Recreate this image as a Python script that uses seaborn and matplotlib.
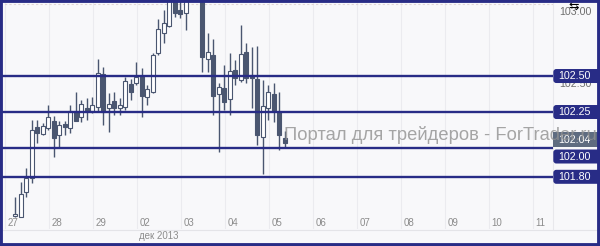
import numpy as np
import matplotlib
matplotlib.use("Agg")
import matplotlib.pyplot as plt
from matplotlib.patches import FancyBboxPatch, Rectangle
from matplotlib.lines import Line2D
import matplotlib.transforms as mtransforms
import seaborn as sns

# ---------------- data ----------------
opens = [101.53, 101.52, 101.694, 101.79, 102.146, 102.097, 102.139, 102.187, 102.09, 102.167,
         102.139, 102.257, 102.215, 102.278, 102.257, 102.285, 102.514, 102.278, 102.326, 102.278,
         102.285, 102.444, 102.451, 102.5, 102.354, 102.389, 102.66, 102.799, 102.85, 103.05,
         102.958, 102.938, 103.05, 103.15, 103.10, 102.618, 102.646, 102.375, 102.417, 102.34,
         102.542, 102.472, 102.667, 102.507, 102.479, 102.076, 102.278, 102.375, 102.25, 102.069]
highs = [101.66, 101.764, 101.861, 102.194, 102.194, 102.174, 102.299, 102.222, 102.187, 102.187,
         102.299, 102.389, 102.333, 102.347, 102.354, 102.618, 102.563, 102.382, 102.389, 102.347,
         102.493, 102.479, 102.597, 102.556, 102.438, 102.66, 102.896, 102.958, 103.10, 103.08,
         103.02, 103.10, 103.20, 103.22, 103.15, 102.799, 102.757, 102.451, 102.576, 102.66,
         102.611, 102.854, 102.729, 102.701, 102.708, 102.472, 102.438, 102.451, 102.389, 102.118]
lows = [101.52, 101.52, 101.66, 101.757, 102.035, 102.09, 102.125, 101.938, 102.0, 102.09,
        102.104, 102.187, 102.18, 102.194, 102.243, 102.25, 102.16, 102.111, 102.229, 102.229,
        102.264, 102.333, 102.438, 102.215, 102.299, 102.382, 102.646, 102.729, 102.84, 102.91,
        102.90, 102.819, 103.04, 103.05, 102.528, 102.528, 102.229, 101.972, 102.264, 102.229,
        102.438, 102.458, 102.451, 102.278, 102.021, 101.819, 102.194, 102.18, 101.986, 102.0]
closes = [101.54, 101.68, 101.79, 102.125, 102.104, 102.153, 102.215, 102.069, 102.16, 102.146,
          102.257, 102.187, 102.306, 102.257, 102.299, 102.521, 102.25, 102.306, 102.278, 102.299,
          102.465, 102.389, 102.493, 102.361, 102.41, 102.646, 102.826, 102.868, 103.05, 102.938,
          102.93, 103.05, 103.15, 103.10, 102.632, 102.667, 102.361, 102.424, 102.319, 102.535,
          102.486, 102.653, 102.486, 102.486, 102.09, 102.292, 102.389, 102.257, 102.09, 102.035]

day_labels = ["27", "28", "29", "02", "03", "04", "05", "06", "07", "08", "09", "10", "11"]
month_label = "дек 2013"
month_day_index = 3
candles_per_day = 8

levels = [102.50, 102.25, 102.00, 101.80]
last_price = 102.04
price_ticks = [103.00, 102.50]
watermark = "Портал для трейдеров - ForTrader.ru"

# ---------------- style ----------------
sns.set_style("white")
plt.rcParams["font.family"] = ["Liberation Sans", "DejaVu Sans"]

BG = "#f8f8fa"
NAVY = "#282c86"
CANDLE = "#4a5670"
LASTC = "#5f6c80"
TICKC = "#8c8c8c"

W, H = 600, 246
fig = plt.figure(figsize=(W / 100, H / 100), dpi=100)
fig.patch.set_facecolor(BG)

ax_h_px = 229
ax = fig.add_axes([0, 1 - ax_h_px / H, 553 / W, ax_h_px / H])
ax.set_facecolor(BG)
ax2 = fig.add_axes([553 / W, 1 - ax_h_px / H, 47 / W, ax_h_px / H])
ax2.set_facecolor("none")

ymin, ymax = 101.4375, 103.028
ax.set_ylim(ymin, ymax)
ax2.set_ylim(ymin, ymax)
ax.set_xlim(-2.78, 97.76)
ax2.set_xlim(0, 47)
ppu = ax_h_px / (ymax - ymin)  # pixels per price unit

for a in (ax, ax2):
    a.set_xticks([])
    a.set_yticks([])
    for s in a.spines.values():
        s.set_visible(False)
ax.spines["right"].set_visible(True)
ax.spines["right"].set_color("#e8e8ec")
ax.spines["right"].set_linewidth(0.8)

x = np.arange(len(opens))
o = np.array(opens); c = np.array(closes); hi = np.array(highs); lo = np.array(lows)

# vertical day grid
day_pos = np.arange(len(day_labels)) * candles_per_day - 1.875
for p in day_pos:
    ax.axvline(p, color="#ebebef", lw=0.8, zorder=0.5)

# dashed price grid
for t in price_ticks:
    ax.axhline(t, color="#e2d6d6", lw=0.8, ls=(0, (2, 2)), zorder=0.6)

# candles
ax.vlines(x, lo, hi, color=CANDLE, lw=1.0, zorder=2)
up = c >= o
body_lo = np.minimum(o, c)
body_h = np.maximum(np.abs(c - o), 0.008)
ax.bar(x[up], body_h[up], bottom=body_lo[up], width=0.68, color="white",
       edgecolor=CANDLE, linewidth=0.8, zorder=3)
ax.bar(x[~up], body_h[~up], bottom=body_lo[~up], width=0.68, color=CANDLE,
       edgecolor=CANDLE, linewidth=0.8, zorder=3)

# level lines
for lv in levels:
    ax.axhline(lv, color=NAVY, lw=1.7, zorder=4)

# day labels
trans = mtransforms.blended_transform_factory(ax.transData, ax.transAxes)
for p, lab in zip(day_pos, day_labels):
    ax.text(p + 0.45, 6 / ax_h_px, lab, transform=trans, fontsize=7, color=TICKC,
            ha="left", va="center", zorder=5)
ax.text(day_pos[month_day_index] + 0.45, -7 / ax_h_px, month_label, transform=trans,
        fontsize=7, color=TICKC, ha="left", va="center", clip_on=False)

# right price scale: gray tick labels
for t in price_ticks:
    ax2.text(6, t - 8 / ppu, f"{t:.2f}", fontsize=7.7, color="#6e6e6e",
             ha="left", va="center", zorder=1)

# level label boxes
box_h = 14 / ppu
label_offsets_px = {102.00: 8.5}
for lv in levels:
    yc = lv - label_offsets_px.get(lv, 0) / ppu
    ax2.add_patch(FancyBboxPatch((0.3, yc - box_h / 2), 60, box_h,
                                 boxstyle="round,pad=0,rounding_size=3",
                                 mutation_aspect=1 / ppu, facecolor=NAVY,
                                 edgecolor="none", zorder=3))
    ax2.text(5, yc, f"{lv:.2f}", fontsize=7.7, color="white", ha="left",
             va="center", zorder=4)

# last price box
yc = last_price + 2.5 / ppu
ax2.add_patch(Rectangle((0.3, yc - 7.5 / ppu), 60, 15 / ppu, facecolor=LASTC,
                        edgecolor="none", zorder=3.5))
ax2.text(5, yc, f"{last_price:.2f}", fontsize=7.7, color="white", ha="left",
         va="center", zorder=4)

# cursor-like glyph on price scale
ax2.text(21, ymax - 6 / ppu, "⇆", fontsize=9, color="black", ha="center",
         va="center", family="DejaVu Sans", zorder=5)

# watermark (drawn over everything, semi-transparent)
fig.text(284 / W, 1 - 140 / H, watermark, fontsize=13.2, color="#909090",
         alpha=0.8, va="baseline", ha="left", zorder=3)

# bottom separator and border
fig.add_artist(Line2D([0, 1], [1 - 229.5 / H] * 2, transform=fig.transFigure,
                      color="#e4e4e8", lw=0.8))
fig.add_artist(Rectangle((0, 0), 1, 1, transform=fig.transFigure, fill=False,
                         edgecolor=NAVY, lw=4.2, zorder=10))

fig.savefig("out.png", dpi=100, facecolor=BG)
